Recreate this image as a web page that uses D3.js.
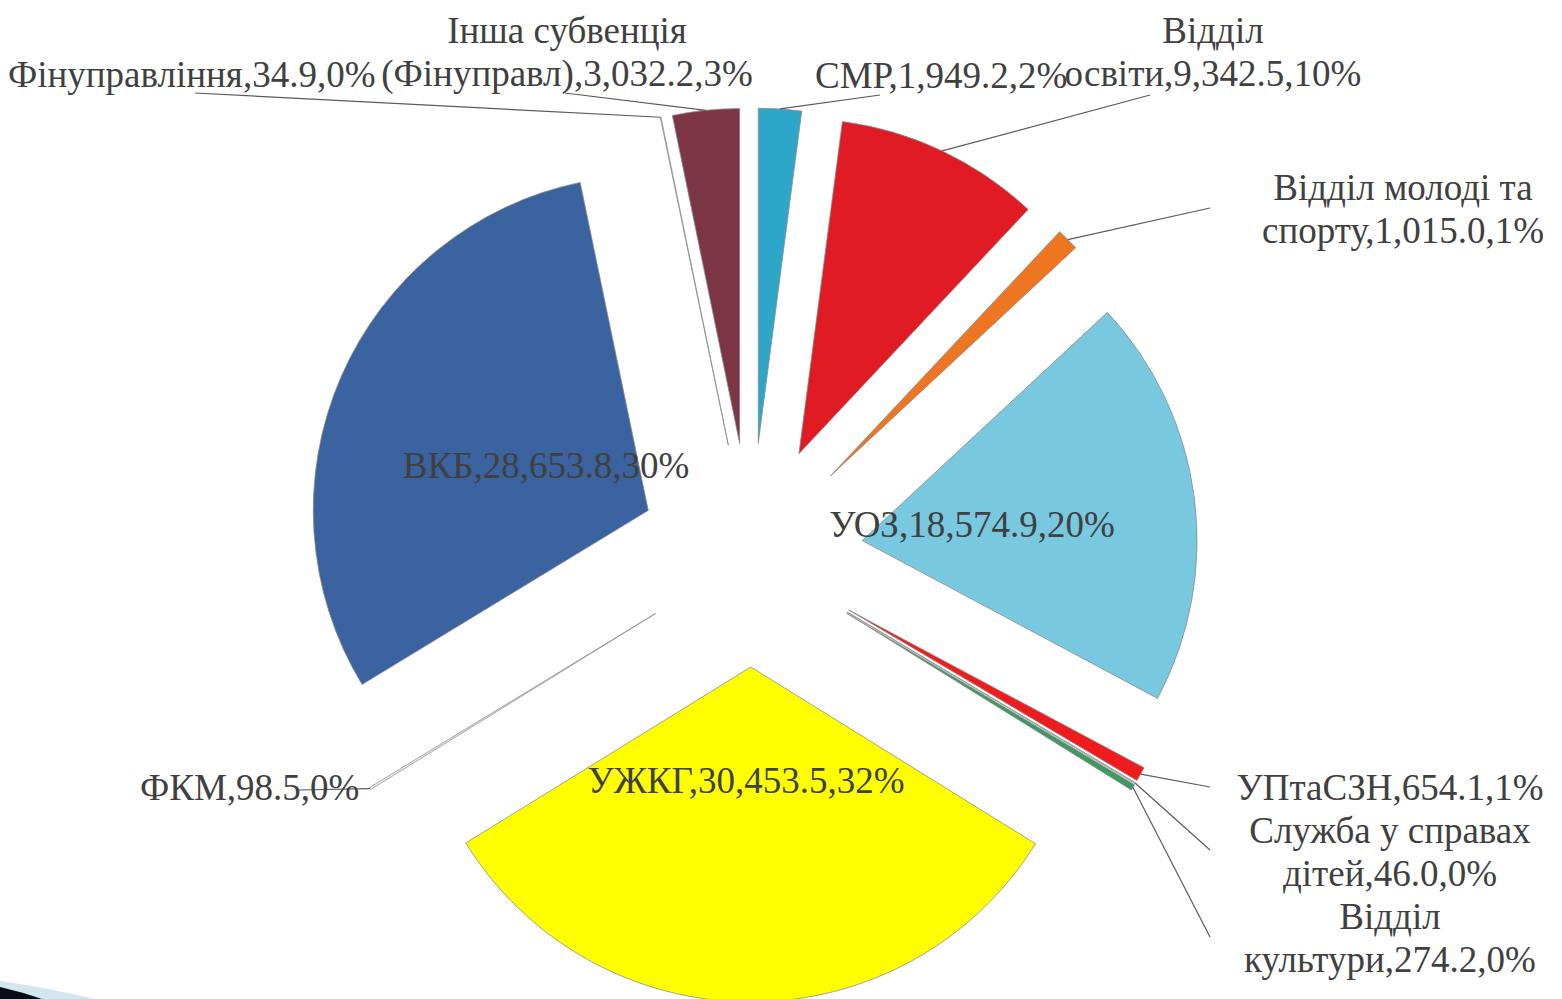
<!DOCTYPE html>
<html>
<head>
<meta charset="utf-8">
<script src="https://cdn.jsdelivr.net/npm/d3@7"></script>
<style>
  html, body { margin: 0; padding: 0; background: #fff; overflow: hidden; }
  svg { display: block; }
</style>
</head>
<body>
<div id="chart"></div>
<script>
    // categories and values, clockwise from 12 o'clock
    const departments = [
        'СМР',
        'Відділ освіти',
        'Відділ молоді та спорту',
        'УОЗ',
        'УПтаСЗН',
        'Служба у справах дітей',
        'Відділ культури',
        'УЖКГ',
        'ФКМ',
        'ВКБ',
        'Фінуправління',
        'Інша субвенція (Фінуправл)'
    ];
    const amounts = [1949.2, 9342.5, 1015.0, 18574.9, 654.1, 46.0, 274.2, 30453.5, 98.5, 28653.8, 34.9, 3032.2];
    const sliceColors = ['#2ea6c8', '#e01b24', '#ee7622', '#78c8df', '#ee1c1c', '#d9d9d9',
        '#3f9a62', '#ffff00', '#f4f4f4', '#3a63a0', '#f4f4f4', '#7d3644'];

    // label layout: x, first baseline, anchor, words on first line (0 = one line), leader end
    const labelLayout = [
        {x: 815, y: 88, anchor: 'start', wrap: 0, lead: [880, 95]},
        {x: 1213, y: 43, anchor: 'middle', wrap: 1, lead: [1150, 95]},
        {x: 1403, y: 200, anchor: 'middle', wrap: 3, lead: [1210, 208]},
        {x: 972, y: 537, anchor: 'middle', wrap: 0, lead: null},
        {x: 1390, y: 800, anchor: 'middle', wrap: 0, lead: [1210, 787]},
        {x: 1390, y: 843, anchor: 'middle', wrap: 3, lead: [1210, 850]},
        {x: 1390, y: 929, anchor: 'middle', wrap: 1, lead: [1210, 937]},
        {x: 746, y: 793, anchor: 'middle', wrap: 0, lead: null},
        {x: 140, y: 800, anchor: 'start', wrap: 0, lead: [298, 790]},
        {x: 546, y: 478, anchor: 'middle', wrap: 0, lead: null},
        {x: 8, y: 87, anchor: 'start', wrap: 0, lead: [195, 93]},
        {x: 567, y: 43, anchor: 'middle', wrap: 2, lead: [565, 93]}
    ];

    const w = 1562;
    const h = 999;
    const cx = 751, cy = 555;
    const radius = 335;
    const explode = 112;
    const lineH = 43;

    const data = departments.map((name, i) => ({name: name, value: amounts[i], color: sliceColors[i], layout: labelLayout[i]}));
    const total = d3.sum(amounts);
    const fmtVal = d3.format(',.1f');

    const svg = d3.select('#chart')
        .append('svg')
        .attr('width', w)
        .attr('height', h);

    const pie = d3.pie()
        .sort(null)
        .value((d) => d.value)
        .startAngle(0)
        .endAngle(2 * Math.PI);

    const arc = d3.arc()
        .innerRadius(0)
        .outerRadius(radius);

    const outerArc = d3.arc()
        .innerRadius(radius)
        .outerRadius(radius);

    const arcs = pie(data);

    function shift(d) {
        const mid = (d.startAngle + d.endAngle) / 2;
        return [cx + Math.sin(mid) * explode, cy - Math.cos(mid) * explode];
    }

    // decoration in the bottom-left corner of the slide
    svg.append('path')
        .attr('d', 'M0,981 Q50,988 94,999 L0,999 Z')
        .attr('fill', '#d3e6ef');
    svg.append('path')
        .attr('d', 'M0,987 Q22,992 42,999 L0,999 Z')
        .attr('fill', '#0b0b14');

    const slices = svg.append('g').attr('class', 'slices');

    slices.selectAll('path')
        .data(arcs)
        .enter()
        .append('path')
        .attr('transform', (d) => 'translate(' + shift(d) + ')')
        .attr('d', arc)
        .attr('fill', (d) => d.data.color)
        .attr('stroke', '#8c8c8c')
        .attr('stroke-width', 0.8);

    // leader lines
    svg.append('g')
        .selectAll('line')
        .data(arcs.filter((d) => d.data.layout.lead))
        .enter()
        .append('line')
        .attr('x1', (d) => shift(d)[0] + outerArc.centroid(d)[0])
        .attr('y1', (d) => shift(d)[1] + outerArc.centroid(d)[1])
        .attr('x2', (d) => d.data.layout.lead[0])
        .attr('y2', (d) => d.data.layout.lead[1])
        .attr('stroke', '#5a5a5a')
        .attr('stroke-width', 1.2);

    // labels
    const labels = svg.append('g')
        .selectAll('text')
        .data(arcs)
        .enter()
        .append('text')
        .attr('font-family', "'Liberation Serif'")
        .attr('text-anchor', (d) => d.data.layout.anchor)
        .attr('font-size', 37)
        .attr('fill', '#404040');

    labels.each(function (d) {
        const lay = d.data.layout;
        const full = d.data.name + ',' + fmtVal(d.data.value) + ',' + Math.round(d.data.value / total * 100) + '%';
        let lines = [full];
        if (lay.wrap > 0) {
            const words = full.split(' ');
            lines = [words.slice(0, lay.wrap).join(' '), words.slice(lay.wrap).join(' ')];
        }
        d3.select(this).selectAll('tspan')
            .data(lines)
            .enter()
            .append('tspan')
            .attr('x', lay.x)
            .attr('y', (t, i) => lay.y + i * lineH)
            .text((t) => t);
    });
</script>
</body>
</html>
